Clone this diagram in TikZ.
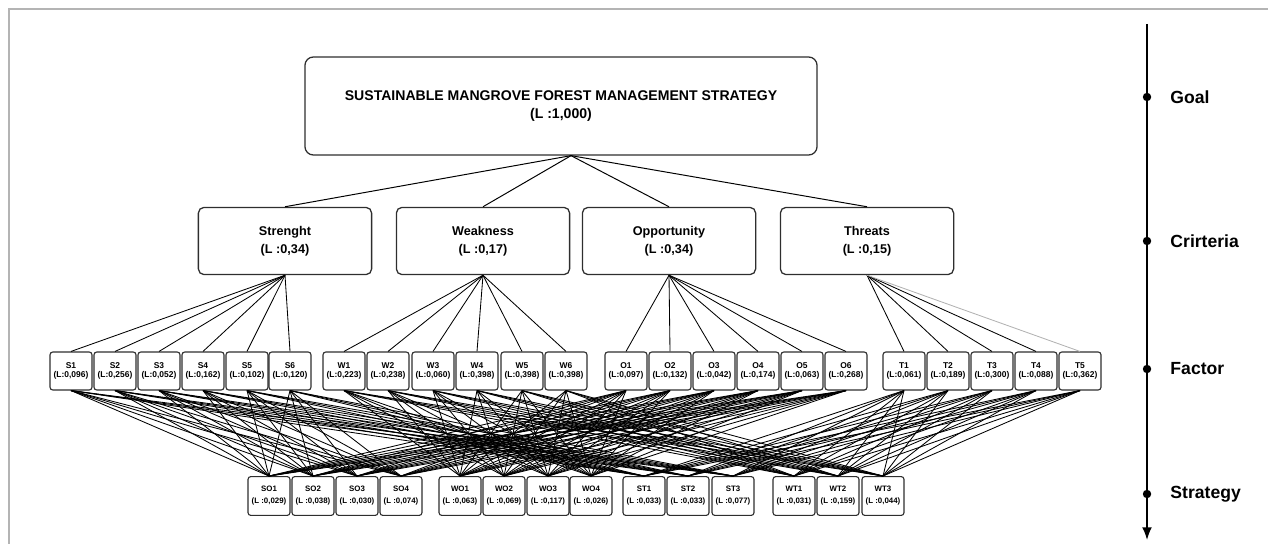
\documentclass[tikz,border=0pt]{standalone}
\usepackage{fontspec}
\setmainfont{Liberation Sans}
\usetikzlibrary{arrows.meta, positioning, calc}
\definecolor{cEdge}{HTML}{2E2E2E}
\definecolor{cFrame}{HTML}{B4B4B4}

\begin{document}
\begin{tikzpicture}[
  x=0.025cm, y=-0.025cm,
  goalbox/.style={draw=cEdge, line width=0.9pt, rounded corners=6pt, minimum width=12.8cm, minimum height=2.45cm, align=center, font=\bfseries\fontsize{10}{13}\selectfont},
  critbox/.style={draw=cEdge, line width=0.9pt, rounded corners=4pt, minimum width=4.33cm, minimum height=1.68cm, align=center, font=\bfseries\fontsize{9}{12.5}\selectfont},
  fbox/.style={draw=cEdge, line width=0.8pt, rounded corners=2pt, minimum width=1.05cm, minimum height=0.95cm, inner sep=0pt, align=center, font=\bfseries\fontsize{6}{6.4}\selectfont},
  sbox/.style={fbox, minimum height=0.97cm, font=\bfseries\fontsize{5.6}{8.5}\selectfont},
  dot/.style={circle, fill=black, inner sep=0pt, minimum size=6pt},
  lvl/.style={font=\bfseries\fontsize{12.5}{14}\selectfont, anchor=west},
  link/.style={line width=0.6pt},
  arr/.style={-{Latex[length=9pt, width=7pt]}, line width=1.2pt}
]
\useasboundingbox (0,0) rectangle (1268,544);
\draw[cFrame, line width=1pt] (9,544) -- (9,9) -- (1268,9);

% goal and criteria
\node[goalbox] (goal) at (561,106) {SUSTAINABLE MANGROVE FOREST MANAGEMENT STRATEGY\\(L :1,000)};
\node[critbox] (S) at (285,241) {Strenght\\(L :0,34)};
\node[critbox] (W) at (483,241) {Weakness\\(L :0,17)};
\node[critbox] (O) at (669,241) {Opportunity\\(L :0,34)};
\node[critbox] (T) at (867,241) {Threats\\(L :0,15)};

\coordinate (gfoot) at ($(goal.south)+(10,0)$);
\foreach \c in {S,W,O,T}
  \draw[link, line width=0.7pt] (gfoot) -- (\c.north);

% factors
\foreach \fn/\x/\v in {S1/71/096, S2/115/256, S3/159/052, S4/203/162, S5/247/102, S6/290/120,
  W1/344/223, W2/388/238, W3/433/060, W4/477/398, W5/522/398, W6/566/398,
  O1/626/097, O2/670/132, O3/714/042, O4/758/174, O5/802/063, O6/846/268,
  T1/904/061, T2/948/189, T3/992/300, T4/1036/088, T5/1080/362}
  \node[fbox] (\fn) at (\x,371) {\fn\\(L:0,\v)};

% strategies
\foreach \sn/\x/\v in {SO1/269/029, SO2/313/038, SO3/357/030, SO4/401/074,
  WO1/460/063, WO2/504/069, WO3/548/117, WO4/591/026,
  ST1/644/033, ST2/688/033, ST3/733/077,
  WT1/794/031, WT2/838/159, WT3/883/044}
  \node[sbox] (\sn) at (\x,496) {\sn\\(L :0,\v)};

% criteria to factors
\foreach \j in {1,...,6} {
  \draw[link] (S.south) -- (S\j.north);
  \draw[link] (W.south) -- (W\j.north);
  \draw[link] (O.south) -- (O\j.north);
}
\foreach \j in {1,...,4}
  \draw[link] (T.south) -- (T\j.north);
\draw[link, gray!60] (T.south) -- (T5.north);

% factors to strategies
\foreach \i in {1,...,4}
  \foreach \j in {1,...,6} {
    \draw[link] (S\j.south) -- (SO\i.north);
    \draw[link] (O\j.south) -- (SO\i.north);
    \draw[link] (W\j.south) -- (WO\i.north);
    \draw[link] (O\j.south) -- (WO\i.north);
  }
\foreach \i in {1,...,3} {
  \foreach \j in {1,...,6} {
    \draw[link] (S\j.south) -- (ST\i.north);
    \draw[link] (W\j.south) -- (WT\i.north);
  }
  \foreach \k in {1,...,5} {
    \draw[link] (T\k.south) -- (ST\i.north);
    \draw[link] (T\k.south) -- (WT\i.north);
  }
}

% level axis
\coordinate (axtop) at (1147,24);
\coordinate (axend) at (1147,540);
\draw[arr] (axtop) -- (axend);
\node[dot] (dGoal) at (1147,97) {};
\node[dot] (dCrit) at (1147,241) {};
\node[dot] (dFact) at (1147,369) {};
\node[dot] (dStrat) at (1147,494) {};
\node[lvl, right=0.35cm of dGoal] {Goal};
\node[lvl, right=0.35cm of dCrit] {Crirteria};
\node[lvl, right=0.35cm of dFact] {Factor};
\node[lvl, right=0.35cm of dStrat] {Strategy};
\end{tikzpicture}
\end{document}
